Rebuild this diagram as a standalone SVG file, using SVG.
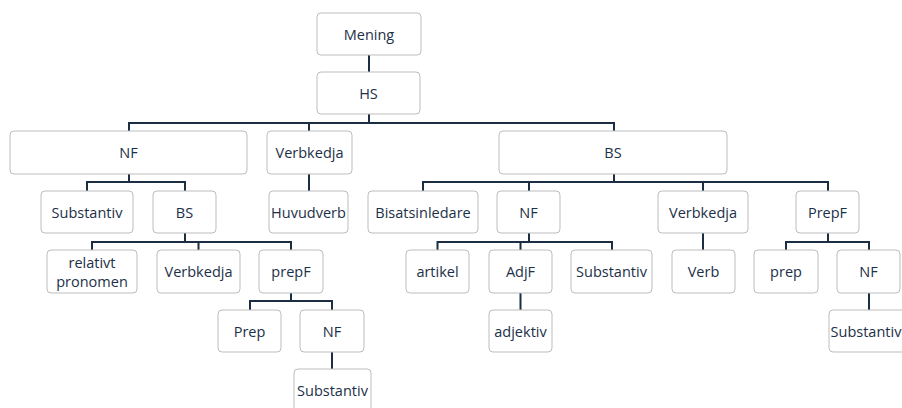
<svg xmlns="http://www.w3.org/2000/svg" width="902" height="408" viewBox="0 0 902 408">
  <style>
    .box { fill: #ffffff; stroke: #bdbdbd; stroke-width: 1; }
    .lbl { font-family: "Open Sans", "Liberation Sans", sans-serif; font-size: 14.5px; fill: #1c3048; text-anchor: middle; dominant-baseline: central; }
    .wire { fill: none; stroke: #1b2e44; stroke-width: 2; }
  </style>
  <rect width="902" height="408" fill="#ffffff"/>

  <!-- tree connectors -->
  <g id="connectors" class="wire">
    <path d="M369 55 V72"/>
    <path d="M369 114 V123 M129 131 V123 H614 V131 M309 123 V131"/>
    <path d="M129 174 V182 M87 191 V182 H185 V191"/>
    <path d="M309 174 V191"/>
    <path d="M614 174 V182 M423 191 V182 H828 V191 M529 182 V191 M703 182 V191"/>
    <path d="M185 233 V242 M92 250 V242 H291 V250 M198.5 242 V250"/>
    <path d="M529 233 V242 M437.5 250 V242 H612 V250 M520.5 242 V250"/>
    <path d="M703 233 V250"/>
    <path d="M828 233 V242 M786 250 V242 H869 V250"/>
    <path d="M291 293 V301 M250 310 V301 H332 V310"/>
    <path d="M520.5 293 V310"/>
    <path d="M869 293 V310"/>
    <path d="M332 352 V369"/>
  </g>

  <!-- level 1 -->
  <g id="mening"><rect class="box" x="317" y="13" width="104" height="42" rx="4"/><text class="lbl" x="369" y="34">Mening</text></g>
  <!-- level 2 -->
  <g id="hs"><rect class="box" x="317" y="72" width="103" height="42" rx="4"/><text class="lbl" x="368.5" y="93">HS</text></g>
  <!-- level 3 -->
  <g id="nf-1"><rect class="box" x="10" y="131" width="237" height="43" rx="4"/><text class="lbl" x="128.5" y="152.5">NF</text></g>
  <g id="verbkedja-1"><rect class="box" x="267" y="131" width="85" height="43" rx="4"/><text class="lbl" x="309.5" y="152.5">Verbkedja</text></g>
  <g id="bs-1"><rect class="box" x="499" y="131" width="228" height="43" rx="4"/><text class="lbl" x="613" y="152.5">BS</text></g>
  <!-- level 4 -->
  <g id="substantiv-1"><rect class="box" x="41" y="191" width="92" height="42" rx="4"/><text class="lbl" x="87" y="212">Substantiv</text></g>
  <g id="bs-2"><rect class="box" x="153" y="191" width="63" height="42" rx="4"/><text class="lbl" x="184.5" y="212">BS</text></g>
  <g id="huvudverb"><rect class="box" x="269" y="191" width="79" height="42" rx="4"/><text class="lbl" x="308.5" y="212">Huvudverb</text></g>
  <g id="bisatsinledare"><rect class="box" x="368" y="191" width="110" height="42" rx="4"/><text class="lbl" x="423" y="212">Bisatsinledare</text></g>
  <g id="nf-2"><rect class="box" x="497" y="191" width="63" height="42" rx="4"/><text class="lbl" x="528.5" y="212">NF</text></g>
  <g id="verbkedja-2"><rect class="box" x="658" y="191" width="90" height="42" rx="4"/><text class="lbl" x="703" y="212">Verbkedja</text></g>
  <g id="prepf-1"><rect class="box" x="796" y="191" width="63" height="42" rx="4"/><text class="lbl" x="827.5" y="212">PrepF</text></g>
  <!-- level 5 -->
  <g id="relativt-pronomen"><rect class="box" x="47" y="250" width="90" height="43" rx="4"/><text class="lbl" x="92" y="262.5">relativt</text><text class="lbl" x="92" y="281">pronomen</text></g>
  <g id="verbkedja-3"><rect class="box" x="157" y="250" width="83" height="43" rx="4"/><text class="lbl" x="198.5" y="271.5">Verbkedja</text></g>
  <g id="prepf-2"><rect class="box" x="259" y="250" width="64" height="43" rx="4"/><text class="lbl" x="291" y="271.5">prepF</text></g>
  <g id="artikel"><rect class="box" x="406" y="250" width="63" height="43" rx="4"/><text class="lbl" x="437.5" y="271.5">artikel</text></g>
  <g id="adjf"><rect class="box" x="489" y="250" width="63" height="43" rx="4"/><text class="lbl" x="520.5" y="271.5">AdjF</text></g>
  <g id="substantiv-2"><rect class="box" x="571" y="250" width="81" height="43" rx="4"/><text class="lbl" x="611.5" y="271.5">Substantiv</text></g>
  <g id="verb"><rect class="box" x="672" y="250" width="63" height="43" rx="4"/><text class="lbl" x="703.5" y="271.5">Verb</text></g>
  <g id="prep-1"><rect class="box" x="754" y="250" width="64" height="43" rx="4"/><text class="lbl" x="786" y="271.5">prep</text></g>
  <g id="nf-3"><rect class="box" x="837" y="250" width="63" height="43" rx="4"/><text class="lbl" x="868.5" y="271.5">NF</text></g>
  <!-- level 6 -->
  <g id="prep-2"><rect class="box" x="218" y="310" width="63" height="42" rx="4"/><text class="lbl" x="249.5" y="331">Prep</text></g>
  <g id="nf-4"><rect class="box" x="300" y="310" width="64" height="42" rx="4"/><text class="lbl" x="332" y="331">NF</text></g>
  <g id="adjektiv"><rect class="box" x="489" y="310" width="63" height="42" rx="4"/><text class="lbl" x="520.5" y="331">adjektiv</text></g>
  <g id="substantiv-4"><rect class="box" x="829" y="310" width="80" height="42" rx="4"/><text class="lbl" x="866" y="331">Substantiv</text></g>
  <!-- level 7 -->
  <g id="substantiv-3"><rect class="box" x="294" y="369" width="77" height="42" rx="4"/><text class="lbl" x="332.5" y="390">Substantiv</text></g>
</svg>
